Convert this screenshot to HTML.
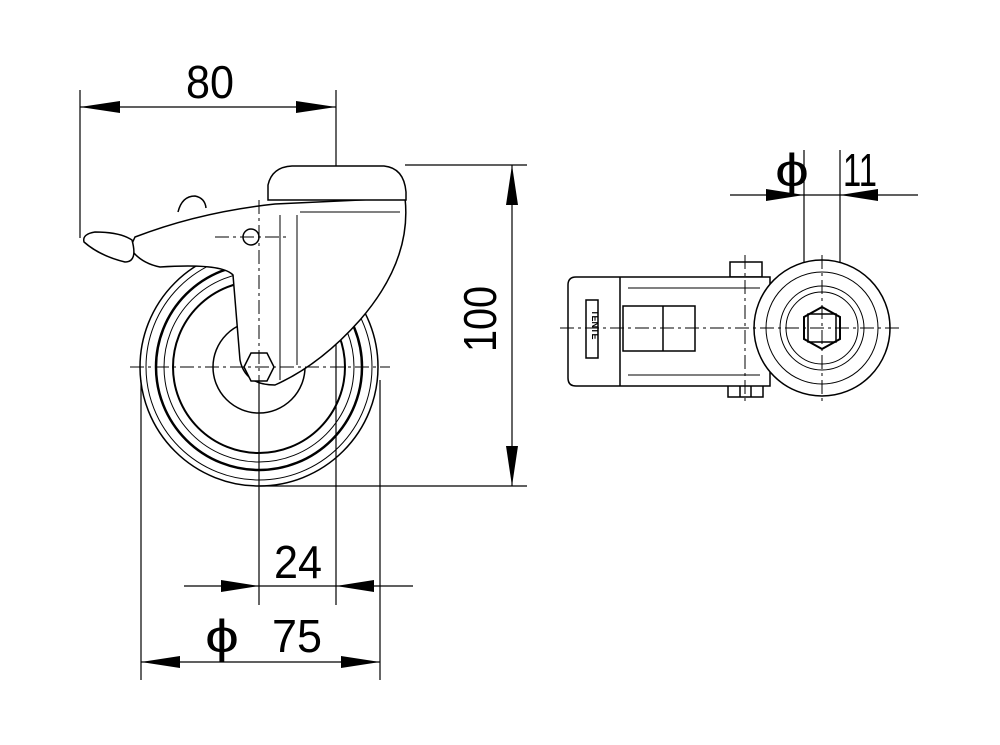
<!DOCTYPE html>
<html><head><style>html,body{margin:0;padding:0;background:#fff}svg{display:block}</style></head><body>
<svg width="1000" height="745" viewBox="0 0 1000 745" xmlns="http://www.w3.org/2000/svg" font-family="Liberation Sans, sans-serif">
<g stroke="#000" fill="none" stroke-width="1.2">
<line x1="80" y1="90" x2="80" y2="238"/>
<line x1="336" y1="90" x2="336" y2="605"/>
<line x1="405" y1="165" x2="527" y2="165"/>
<line x1="260" y1="486" x2="527" y2="486"/>
<line x1="259" y1="370" x2="259" y2="605"/>
<line x1="141" y1="380" x2="141" y2="680"/>
<line x1="380" y1="380" x2="380" y2="680"/>
<line x1="80" y1="107" x2="336" y2="107"/>
<line x1="512" y1="165" x2="512" y2="486"/>
<line x1="184" y1="586" x2="413" y2="586"/>
<line x1="141" y1="662" x2="380" y2="662"/>
<line x1="730" y1="195" x2="918" y2="195"/>
<line x1="804" y1="150" x2="804" y2="330"/>
<line x1="840" y1="150" x2="840" y2="330"/>
</g>
<g fill="#000">
<polygon points="80,107 120,101 120,113"/><polygon points="336,107 296,101 296,113"/>
<polygon points="512,165 506,205 518,205"/><polygon points="512,486 506,446 518,446"/>
<polygon points="259,586 221,580 221,592"/><polygon points="336,586 374,580 374,592"/>
<polygon points="141,662 180,656 180,668"/><polygon points="380,662 341,656 341,668"/>
<polygon points="804,195 766,189 766,201"/><polygon points="840,195 878,189 878,201"/>
</g>
<g font-size="46" fill="#000">
<text x="186" y="98" textLength="48" lengthAdjust="spacingAndGlyphs">80</text>
<text x="274" y="578" textLength="48" lengthAdjust="spacingAndGlyphs">24</text>
<text x="272" y="652" textLength="50" lengthAdjust="spacingAndGlyphs">75</text>
<text x="205" y="652" textLength="34" lengthAdjust="spacingAndGlyphs" font-weight="normal">ϕ</text>
<text x="775" y="186" textLength="34" lengthAdjust="spacingAndGlyphs">ϕ</text>
<text x="843" y="186" textLength="34" lengthAdjust="spacingAndGlyphs">11</text>
<text transform="translate(496,352) rotate(-90)" textLength="66" lengthAdjust="spacingAndGlyphs">100</text>
</g>
<g stroke="#000" fill="none" stroke-width="1.5">
<circle cx="259" cy="367" r="119"/>
<circle cx="259" cy="367" r="113" stroke-width="1"/>
<circle cx="259" cy="367" r="103" stroke-width="2.5"/>
<circle cx="259" cy="367" r="95" stroke-width="1"/>
<circle cx="259" cy="367" r="86" stroke-width="2"/>
<circle cx="259" cy="367" r="46"/>
<path d="M405,198 Q412,260 360,320 Q320,365 275,385 Q245,385 240,360 L233,275 Q222,263 160,267 Q140,263 130,248 L135,237 Q200,212 275,204 Z" fill="#fff"/>
<path d="M268,200 L268,185 Q272,167 292,166 L384,166 Q404,168 406,192 L406,200 Z" fill="#fff"/>
<line x1="270" y1="200" x2="405" y2="200" stroke-width="1"/>
<path d="M132,240 Q120,232 95,232 Q82,234 84,242 Q100,256 125,262 Q138,262 132,240Z" fill="#fff"/>
<path d="M178,212 Q182,196 195,196 Q205,198 206,208" fill="#fff"/>
<polygon points="244,367 251,353 267,353 274,367 267,381 251,381" fill="#fff"/>
<circle cx="251" cy="237" r="8" fill="#fff"/>
<line x1="280" y1="215" x2="280" y2="380" stroke-width="1"/>
<line x1="297" y1="215" x2="297" y2="365" stroke-width="1"/>
<line x1="300" y1="212" x2="400" y2="212" stroke-width="1"/>
</g>
<g stroke="#000" stroke-width="1" stroke-dasharray="14,4,3,4">
<line x1="130" y1="367" x2="390" y2="367"/>
<line x1="259" y1="200" x2="259" y2="500"/>
<line x1="215" y1="237" x2="290" y2="237"/>
</g>
<g stroke="#000" fill="none" stroke-width="1.5">
<rect x="730" y="262" width="32" height="15" fill="#fff"/>
<rect x="728" y="383" width="35" height="14" fill="#fff"/>
<line x1="740" y1="383" x2="740" y2="397"/><line x1="751" y1="383" x2="751" y2="397"/>
<path d="M576,277 L770,277 L770,386 L576,386 Q568,386 568,378 L568,285 Q568,277 576,277Z" fill="#fff"/>
<line x1="620" y1="277" x2="620" y2="386"/>
<rect x="586" y="300" width="12" height="58"/>
<rect x="623" y="306" width="72" height="45"/>
<line x1="663" y1="306" x2="663" y2="351"/>
<line x1="628" y1="288" x2="760" y2="288" stroke-width="1"/>
<line x1="628" y1="375" x2="760" y2="375" stroke-width="1"/>
<circle cx="822" cy="328" r="68" fill="#fff"/>
<circle cx="822" cy="328" r="56" stroke-width="1"/>
<circle cx="822" cy="328" r="42" stroke-width="1"/>
<circle cx="822" cy="328" r="36" stroke-width="1"/>
<polygon points="822,307 840,317 840,339 822,349 804,339 804,317" stroke-width="2"/>
<rect x="808" y="314" width="28" height="28"/>
</g>
<text x="592" y="310" font-size="9" font-weight="bold" transform="rotate(90 592 310)">TENTE</text>
<g stroke="#000" stroke-width="1" stroke-dasharray="14,4,3,4">
<line x1="560" y1="328" x2="900" y2="328"/>
<line x1="822" y1="255" x2="822" y2="405"/>
<line x1="745" y1="255" x2="745" y2="405"/>
</g>
</svg>
</body></html>
